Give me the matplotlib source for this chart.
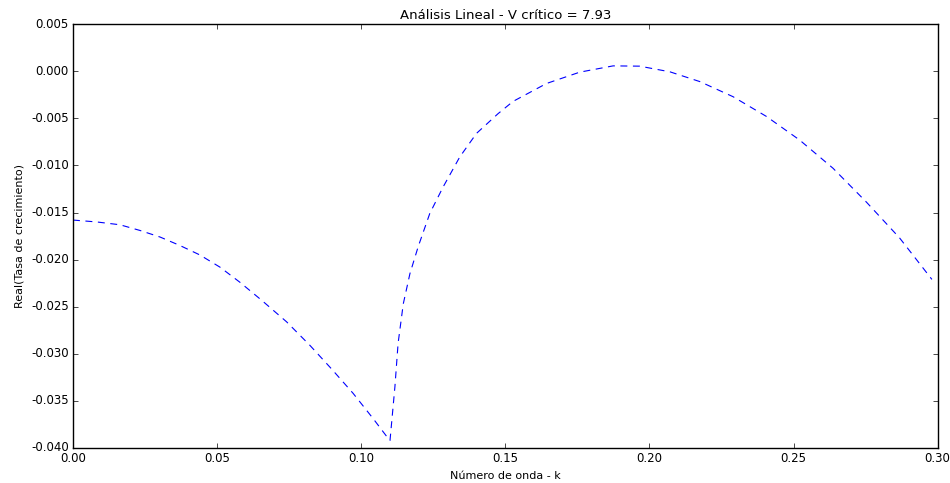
import matplotlib
matplotlib.use("Agg")
import matplotlib.pyplot as plt
from matplotlib.ticker import FormatStrFormatter

# numero de onda k y parte real de la tasa de crecimiento
k = [0.0, 0.0082, 0.0163, 0.0232, 0.0302, 0.0371, 0.0440, 0.0510, 0.0579,
     0.0654, 0.0741, 0.0822, 0.0897, 0.0972, 0.1042, 0.1094, 0.1100,
     0.1117, 0.1128, 0.1146, 0.1169, 0.1198, 0.1238, 0.1284, 0.1342,
     0.1400, 0.1475, 0.1527, 0.1643, 0.1758, 0.1874, 0.1966, 0.2071,
     0.2175, 0.2290, 0.2406, 0.2521, 0.2637, 0.2753, 0.2868, 0.2980]
re_tasa = [-0.0158, -0.0160, -0.0163, -0.0169, -0.0176, -0.0185, -0.0195,
           -0.0208, -0.0224, -0.0243, -0.0266, -0.0291, -0.0316, -0.0342,
           -0.0369, -0.0390, -0.0392, -0.0335, -0.0289, -0.0247, -0.0215,
           -0.0186, -0.0151, -0.0123, -0.0091, -0.0066, -0.0045, -0.0032,
           -0.0013, -0.0001, 0.00057, 0.00054, -0.00006, -0.0011, -0.0027,
           -0.0048, -0.0073, -0.0103, -0.0139, -0.0177, -0.0221]

v_critico = 7.93

plt.style.use("classic")
fig = plt.figure(figsize=(9.5, 4.83), dpi=100, facecolor="white")
ax = fig.add_axes([0.0768, 0.0725, 0.9102, 0.8775])

ax.plot(k, re_tasa, "b--", lw=0.8, dashes=(5, 4))
ax.set_xlim(0.0, 0.30)
ax.set_ylim(-0.040, 0.005)
ax.set_xticks([0.0, 0.05, 0.10, 0.15, 0.20, 0.25, 0.30])
ax.set_yticks([0.005 - 0.005 * i for i in range(10)])
ax.yaxis.set_major_formatter(FormatStrFormatter("%.3f"))
ax.xaxis.set_major_formatter(FormatStrFormatter("%.2f"))
ax.tick_params(labelsize=8.5, length=3.5, pad=3)

ax.set_title("Análisis Lineal - V crítico = %.2f" % v_critico, fontsize=9.5, pad=4)
ax.set_xlabel("Número de onda - k", fontsize=8, labelpad=4)
ax.set_ylabel("Real(Tasa de crecimiento)", fontsize=8, labelpad=5)

fig.savefig("out.png", dpi=100, facecolor="white")
